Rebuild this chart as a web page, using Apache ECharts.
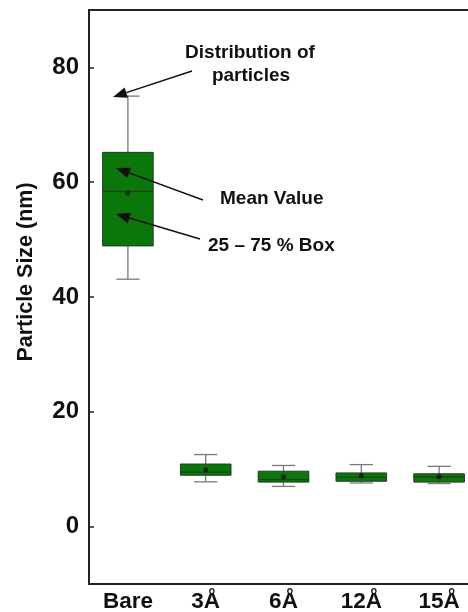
<!DOCTYPE html>
<html>
<head>
<meta charset="utf-8">
<script src="https://cdn.jsdelivr.net/npm/echarts@6/dist/echarts.min.js"></script>
<style>
  html, body { margin: 0; padding: 0; background: #fff; }
  #chart { width: 468px; height: 612px; }
</style>
</head>
<body>
<div id="chart"></div>
<script>
// Particle size distribution per sample
const categories   = ['Bare', '3Å', '6Å', '12Å', '15Å'];
const whiskerLow   = [43.1, 7.8, 7.0, 7.6, 7.5];
const boxLow       = [48.9, 8.95, 7.75, 7.9, 7.75];
const medians      = [58.4, 9.5, 8.2, 8.6, 8.65];
const boxHigh      = [65.2, 10.9, 9.65, 9.35, 9.2];
const whiskerHigh  = [75.0, 12.55, 10.65, 10.8, 10.5];
const means        = [58.1, 9.9, 8.7, 8.85, 8.7];
const yTickValues  = [0, 20, 40, 60, 80];

const FONT = '"Liberation Sans", Arial, Helvetica, sans-serif';
const BOX_FILL = '#0b770b';
const BOX_EDGE = '#1d3d1d';
const WHISKER = '#7a7a7a';

const boxData = categories.map((c, i) => [i, whiskerLow[i], boxLow[i], medians[i], boxHigh[i], whiskerHigh[i]]);
const meanData = categories.map((c, i) => [i, means[i]]);

function renderBox(params, api) {
  const x = api.value(0);
  const band = api.size([1, 0])[0];
  const halfBox = band * 0.325;
  const halfCap = band * 0.15;
  const pWl = api.coord([x, api.value(1)]);
  const pQ1 = api.coord([x, api.value(2)]);
  const pMd = api.coord([x, api.value(3)]);
  const pQ3 = api.coord([x, api.value(4)]);
  const pWh = api.coord([x, api.value(5)]);
  const cx = pMd[0];
  const whiskerStyle = { stroke: WHISKER, lineWidth: 1.3 };
  return {
    type: 'group',
    children: [
      { type: 'line', shape: { x1: cx, y1: pWh[1], x2: cx, y2: pQ3[1] }, style: whiskerStyle },
      { type: 'line', shape: { x1: cx, y1: pQ1[1], x2: cx, y2: pWl[1] }, style: whiskerStyle },
      { type: 'line', shape: { x1: cx - halfCap, y1: pWh[1], x2: cx + halfCap, y2: pWh[1] }, style: whiskerStyle },
      { type: 'line', shape: { x1: cx - halfCap, y1: pWl[1], x2: cx + halfCap, y2: pWl[1] }, style: whiskerStyle },
      { type: 'rect', shape: { x: cx - halfBox, y: pQ3[1], width: halfBox * 2, height: pQ1[1] - pQ3[1] },
        style: { fill: BOX_FILL, stroke: BOX_EDGE, lineWidth: 1 } },
      { type: 'line', shape: { x1: cx - halfBox, y1: pMd[1], x2: cx + halfBox, y2: pMd[1] },
        style: { stroke: BOX_EDGE, lineWidth: 1.2 } }
    ]
  };
}

// Annotation arrow: a shaft plus a filled triangular head at the tip
function arrow(tail, tip) {
  const dx = tip[0] - tail[0], dy = tip[1] - tail[1];
  const len = Math.sqrt(dx * dx + dy * dy);
  const ux = dx / len, uy = dy / len;
  const headLen = 14, headHalf = 5.5;
  const bx = tip[0] - ux * headLen, by = tip[1] - uy * headLen;
  return [
    { type: 'line', shape: { x1: tail[0], y1: tail[1], x2: bx, y2: by },
      style: { stroke: '#111', lineWidth: 1.5 }, z: 100 },
    { type: 'polygon', shape: { points: [tip, [bx - uy * headHalf, by + ux * headHalf], [bx + uy * headHalf, by - ux * headHalf]] },
      style: { fill: '#111' }, z: 100 }
  ];
}

function note(text, x, y, align) {
  return { type: 'text', x: x, y: y, z: 100,
    style: { text: text, fill: '#111', font: 'bold 19px ' + FONT, textAlign: align, textVerticalAlign: 'middle' } };
}

const chart = echarts.init(document.getElementById('chart'));
chart.setOption({
  animation: false,
  backgroundColor: '#fff',
  grid: { left: 89, top: 10, width: 389, height: 574, outerBoundsMode: 'none', containLabel: false,
          show: true, borderColor: '#222', borderWidth: 2, backgroundColor: 'transparent' },
  xAxis: {
    type: 'category',
    data: categories,
    axisLine: { onZero: false, lineStyle: { color: '#222', width: 2 } },
    axisTick: { inside: true, length: 5, alignWithLabel: true, lineStyle: { color: '#222', width: 1.5 } },
    axisLabel: { color: '#111', fontFamily: FONT, fontWeight: 'bold', fontSize: 22.5, margin: 6 },
    splitLine: { show: false }
  },
  yAxis: {
    type: 'value',
    min: -10,
    max: 90,
    axisLine: { show: true, lineStyle: { color: '#222', width: 2 } },
    axisTick: { show: true, inside: true, length: 5, customValues: yTickValues, lineStyle: { color: '#222', width: 1.5 } },
    axisLabel: { color: '#111', fontFamily: FONT, fontWeight: 'bold', fontSize: 24, margin: 10, customValues: yTickValues },
    splitLine: { show: false }
  },
  series: [
    {
      type: 'custom',
      renderItem: renderBox,
      data: boxData,
      encode: { x: 0, y: [1, 2, 3, 4, 5] },
      z: 2
    },
    {
      type: 'scatter',
      data: meanData,
      symbol: 'circle',
      symbolSize: 5,
      itemStyle: { color: '#111' },
      z: 3
    }
  ],
  graphic: [
    { type: 'text', x: 26, y: 272, rotation: Math.PI / 2, z: 100,
      style: { text: 'Particle Size (nm)', fill: '#111', font: 'bold 21.5px ' + FONT,
               textAlign: 'center', textVerticalAlign: 'middle' } },
    ...arrow([192, 71], [113, 97]),
    ...arrow([203, 200], [116, 168]),
    ...arrow([200, 239], [116, 214]),
    note('Distribution of', 250, 53, 'center'),
    note('particles', 251, 76, 'center'),
    note('Mean Value', 220, 199, 'left'),
    note('25 – 75 % Box', 208, 246, 'left')
  ]
});
</script>
</body>
</html>
